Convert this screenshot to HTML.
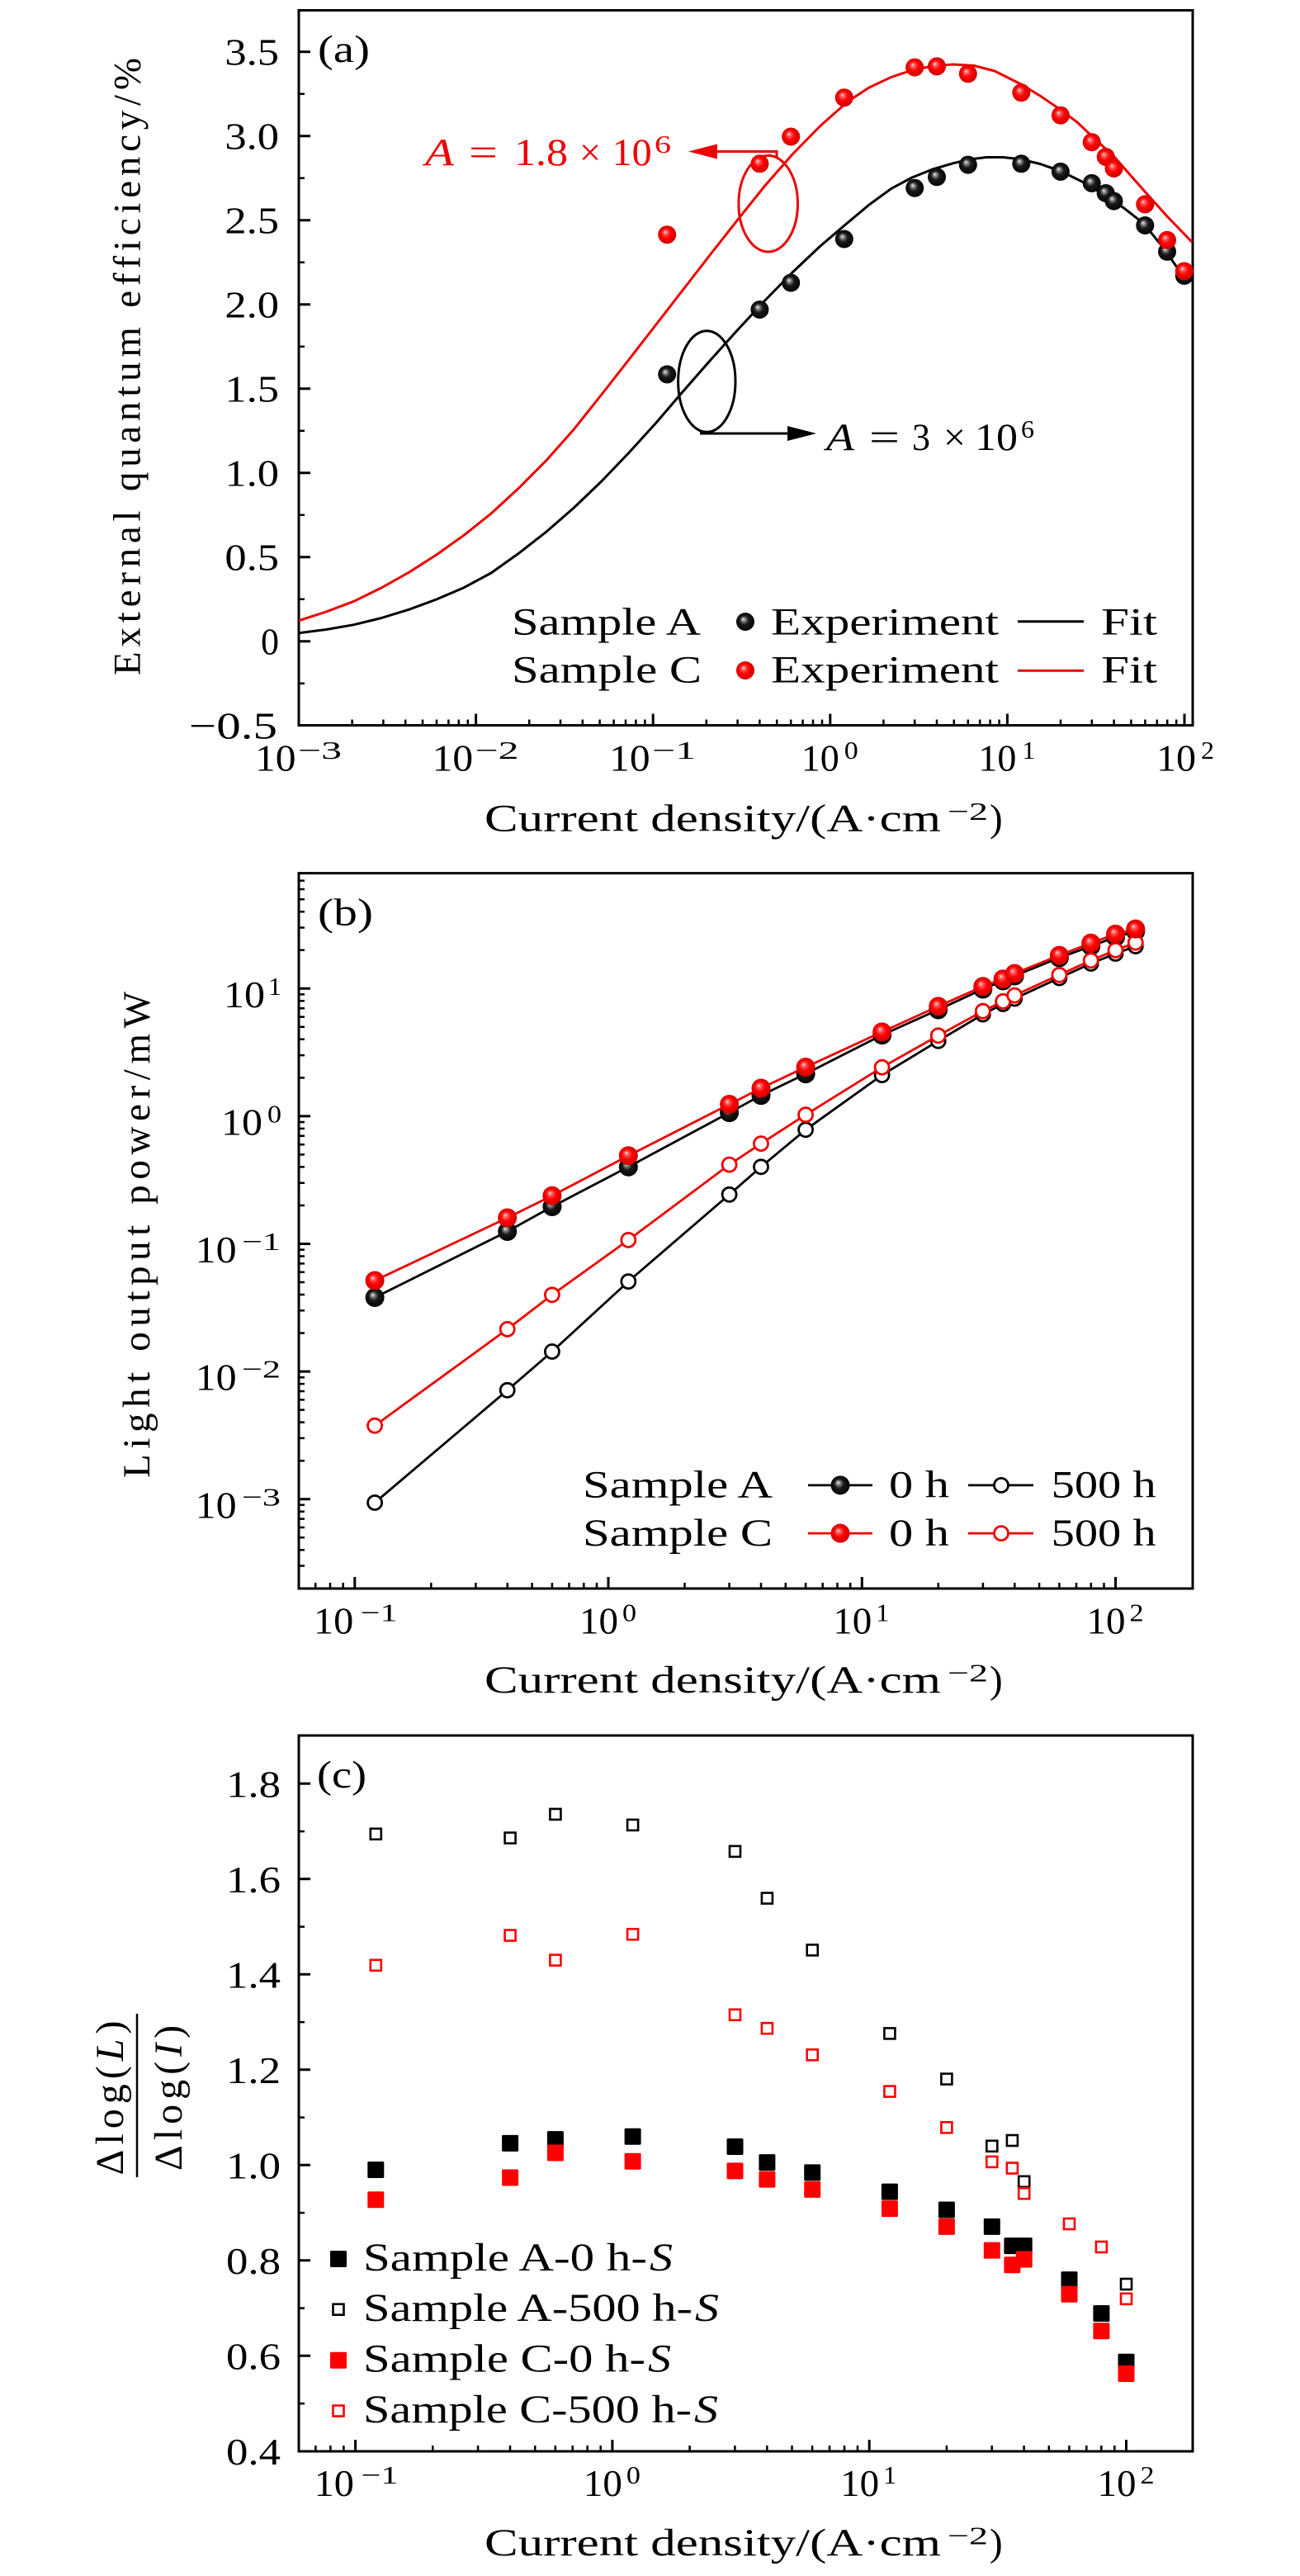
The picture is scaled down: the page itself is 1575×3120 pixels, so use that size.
<!DOCTYPE html>
<html><head><meta charset="utf-8"><style>html,body{margin:0;padding:0;background:#fff}svg{display:block}</style></head>
<body>
<svg xmlns="http://www.w3.org/2000/svg" width="1575" height="3120" viewBox="0 0 1575 3120" font-family="'Liberation Serif', serif">
<defs>
<radialGradient id="gB" cx="0.5" cy="0.5" r="0.55" fx="0.38" fy="0.35">
<stop offset="0" stop-color="#f0f0f0"/><stop offset="0.18" stop-color="#8a8a8a"/><stop offset="0.45" stop-color="#1a1a1a"/><stop offset="1" stop-color="#000"/>
</radialGradient>
<radialGradient id="gR" cx="0.5" cy="0.5" r="0.55" fx="0.38" fy="0.35">
<stop offset="0" stop-color="#ffe0e0"/><stop offset="0.2" stop-color="#ff5a5a"/><stop offset="0.5" stop-color="#ff0000"/><stop offset="1" stop-color="#c80000"/>
</radialGradient>
</defs>
<rect width="1575" height="3120" fill="#fff"/>

<!-- ================= PANEL A ================= -->
<g fill="none" stroke="#000" stroke-width="3">
<rect x="362" y="12.5" width="1083" height="866"/>
<path d="M576.6 878.5v-14M791.2 878.5v-14M1005.8 878.5v-14M1220.4 878.5v-14M1435 878.5v-14"/>
<path stroke-width="2.5" d="M426.6 878.5v-7M464.4 878.5v-7M491.2 878.5v-7M512 878.5v-7M529 878.5v-7M543.4 878.5v-7M555.8 878.5v-7M566.8 878.5v-7M641.2 878.5v-7M679 878.5v-7M705.8 878.5v-7M726.6 878.5v-7M743.6 878.5v-7M758 878.5v-7M770.4 878.5v-7M781.4 878.5v-7M855.8 878.5v-7M893.6 878.5v-7M920.4 878.5v-7M941.2 878.5v-7M958.2 878.5v-7M972.6 878.5v-7M985 878.5v-7M996 878.5v-7M1070.4 878.5v-7M1108.2 878.5v-7M1135 878.5v-7M1155.8 878.5v-7M1172.8 878.5v-7M1187.2 878.5v-7M1199.6 878.5v-7M1210.6 878.5v-7M1285 878.5v-7M1322.8 878.5v-7M1349.6 878.5v-7M1370.4 878.5v-7M1387.4 878.5v-7M1401.8 878.5v-7M1414.2 878.5v-7M1425.2 878.5v-7"/>
<path d="M362 62.7h14M362 164.7h14M362 266.7h14M362 368.7h14M362 470.7h14M362 572.7h14M362 674.7h14M362 776.7h14"/>
<path stroke-width="2.5" d="M362 113.7h7M362 215.7h7M362 317.7h7M362 419.7h7M362 521.7h7M362 623.7h7M362 725.7h7M362 827.7h7"/>
</g>
<g font-size="46" fill="#000">
<text x="272.4" y="78.7" textLength="65.6" lengthAdjust="spacingAndGlyphs">3.5</text>
<text x="272.4" y="180.7" textLength="65.6" lengthAdjust="spacingAndGlyphs">3.0</text>
<text x="272.4" y="282.7" textLength="65.6" lengthAdjust="spacingAndGlyphs">2.5</text>
<text x="272.4" y="384.7" textLength="65.6" lengthAdjust="spacingAndGlyphs">2.0</text>
<text x="272.4" y="486.7" textLength="65.6" lengthAdjust="spacingAndGlyphs">1.5</text>
<text x="272.4" y="588.7" textLength="65.6" lengthAdjust="spacingAndGlyphs">1.0</text>
<text x="272.4" y="690.7" textLength="65.6" lengthAdjust="spacingAndGlyphs">0.5</text>
<text x="316" y="792.7" textLength="22" lengthAdjust="spacingAndGlyphs">0</text>
<text x="229" y="894.7" textLength="107" lengthAdjust="spacingAndGlyphs">−0.5</text>
<text x="309" y="933.3" textLength="49.5" lengthAdjust="spacingAndGlyphs">10</text>
<text x="361" y="919" font-size="31" textLength="53" lengthAdjust="spacingAndGlyphs">−3</text>
<text x="523.6" y="933.3" textLength="49.5" lengthAdjust="spacingAndGlyphs">10</text>
<text x="575.6" y="919" font-size="31" textLength="53" lengthAdjust="spacingAndGlyphs">−2</text>
<text x="738.2" y="933.3" textLength="49.5" lengthAdjust="spacingAndGlyphs">10</text>
<text x="790.2" y="919" font-size="31" textLength="53" lengthAdjust="spacingAndGlyphs">−1</text>
<text x="970.8" y="933.3" textLength="46" lengthAdjust="spacingAndGlyphs">10</text>
<text x="1022.8" y="919" font-size="31" textLength="17" lengthAdjust="spacingAndGlyphs">0</text>
<text x="1185.4" y="933.3" textLength="46" lengthAdjust="spacingAndGlyphs">10</text>
<text x="1238.4" y="919" font-size="31" textLength="16" lengthAdjust="spacingAndGlyphs">1</text>
<text x="1401" y="933.3" textLength="48" lengthAdjust="spacingAndGlyphs">10</text>
<text x="1455" y="919" font-size="31" textLength="16" lengthAdjust="spacingAndGlyphs">2</text>
<text x="587" y="1006.7" font-size="47" textLength="553" lengthAdjust="spacingAndGlyphs">Current density/(A·cm</text>
<text x="1148" y="993" font-size="31" textLength="49" lengthAdjust="spacingAndGlyphs">−2</text>
<text x="1199" y="1006.7" font-size="47">)</text>
<text transform="translate(169.5,444) rotate(-90)" text-anchor="middle" font-size="47" textLength="748" lengthAdjust="spacing">External quantum efficiency/%</text>
<text x="385" y="75" font-size="47" textLength="63" lengthAdjust="spacingAndGlyphs">(a)</text>
</g>
<polyline fill="none" stroke="#000" stroke-width="3" stroke-linejoin="round" points="362,766.7 395,762.5 428.7,756.7 462,748.5 495.3,738.3 528.7,726 562,711.7 595,694 628.7,670 662,644 695.3,615 728.7,583 762,548.3 795,512 826.7,475 860,437 893.3,400 926.7,364 960,330 993.3,298.5 1026.7,270 1053,248 1080,228.3 1105,215 1130,205 1155,197.7 1175,193 1195,190.5 1215,190.5 1235,192.6 1260,198.5 1285,207.3 1310,219.5 1336,234.7 1361,251.5 1386,271 1408,298.5 1428,326.5 1436,336"/>
<polyline fill="none" stroke="#ee0000" stroke-width="3" stroke-linejoin="round" points="362,751.7 395,741 428.7,728.3 462,712 495.3,693.3 528.7,672 562,648.3 595,622 628.7,591 662,557.5 695.3,520 728.7,478 762,435.5 795,393 826.7,352 860,309 893.3,266.7 926.7,225 960,187 993.3,153 1026.7,123.3 1053,106 1080,93.3 1105,85 1130,80 1155,78 1180,79.5 1205,86 1237,102 1260,116 1285,133 1305,148 1323,165 1350,190 1387,232 1414,262 1444,293"/>
<ellipse cx="930.7" cy="246.7" rx="35.8" ry="58.3" fill="none" stroke="#ee0000" stroke-width="3"/>
<path d="M941 191V183.5H866" fill="none" stroke="#ee0000" stroke-width="3"/>
<polygon points="834,183.5 869,174.5 869,192.5" fill="#ee0000"/>
<ellipse cx="856.3" cy="462" rx="34.7" ry="61.3" fill="none" stroke="#000" stroke-width="3"/>
<path d="M848 525H956" fill="none" stroke="#000" stroke-width="3"/>
<polygon points="989,525 954,516 954,534" fill="#000"/>
<g font-size="47" fill="#ee0000">
<text x="515" y="200" font-style="italic" textLength="35" lengthAdjust="spacingAndGlyphs">A</text>
<text x="568" y="200" textLength="35" lengthAdjust="spacingAndGlyphs">=</text>
<text x="623" y="200" textLength="65" lengthAdjust="spacingAndGlyphs">1.8</text>
<text x="702" y="200" textLength="26" lengthAdjust="spacingAndGlyphs">×</text>
<text x="741.7" y="200" textLength="48" lengthAdjust="spacingAndGlyphs">10</text>
<text x="793" y="185" font-size="31" textLength="20" lengthAdjust="spacingAndGlyphs">6</text>
</g>
<g font-size="47" fill="#000">
<text x="1001" y="545" font-style="italic" textLength="34" lengthAdjust="spacingAndGlyphs">A</text>
<text x="1053" y="545" textLength="37" lengthAdjust="spacingAndGlyphs">=</text>
<text x="1105" y="545" textLength="22" lengthAdjust="spacingAndGlyphs">3</text>
<text x="1143" y="545" textLength="27" lengthAdjust="spacingAndGlyphs">×</text>
<text x="1181" y="545" textLength="52" lengthAdjust="spacingAndGlyphs">10</text>
<text x="1237" y="530" font-size="31" textLength="16" lengthAdjust="spacingAndGlyphs">6</text>
</g>
<g fill="url(#gB)">
<circle cx="808.2" cy="453.4" r="11"/><circle cx="920.4" cy="375" r="11"/><circle cx="958.2" cy="342.5" r="11"/><circle cx="1022.8" cy="289.5" r="11"/><circle cx="1108.2" cy="227.7" r="11"/><circle cx="1135" cy="214.3" r="11"/><circle cx="1172.8" cy="199.6" r="11"/><circle cx="1237.3" cy="198.3" r="11"/><circle cx="1284.9" cy="207.9" r="11"/><circle cx="1322.7" cy="221.9" r="11"/><circle cx="1339.7" cy="234" r="11"/><circle cx="1349.5" cy="243.6" r="11"/><circle cx="1387.3" cy="273" r="11"/><circle cx="1414" cy="304.8" r="11"/><circle cx="1434.8" cy="334" r="11"/>
<circle cx="903" cy="753" r="11"/>
</g>
<g fill="url(#gR)">
<circle cx="808.2" cy="284.2" r="11"/><circle cx="920.4" cy="198.3" r="11"/><circle cx="958.2" cy="165.5" r="11"/><circle cx="1022.8" cy="118.2" r="11"/><circle cx="1108.2" cy="81.6" r="11"/><circle cx="1135" cy="80.4" r="11"/><circle cx="1172.8" cy="89.3" r="11"/><circle cx="1237.3" cy="112.2" r="11"/><circle cx="1284.9" cy="139.7" r="11"/><circle cx="1322.7" cy="172.2" r="11"/><circle cx="1339.7" cy="190" r="11"/><circle cx="1349.5" cy="204" r="11"/><circle cx="1387.3" cy="247.4" r="11"/><circle cx="1414" cy="290.8" r="11"/><circle cx="1434.8" cy="328.4" r="11"/>
<circle cx="903" cy="812" r="11"/>
</g>
<path d="M1233 752.7H1313" stroke="#000" stroke-width="3"/>
<path d="M1233 812.3H1313" stroke="#ee0000" stroke-width="3"/>
<g font-size="47" fill="#000">
<text x="620" y="768.3" textLength="229" lengthAdjust="spacingAndGlyphs">Sample A</text>
<text x="934" y="768.3" textLength="276" lengthAdjust="spacingAndGlyphs">Experiment</text>
<text x="1334" y="768.3" textLength="68" lengthAdjust="spacingAndGlyphs">Fit</text>
<text x="620" y="826.7" textLength="230" lengthAdjust="spacingAndGlyphs">Sample C</text>
<text x="934" y="826.7" textLength="276" lengthAdjust="spacingAndGlyphs">Experiment</text>
<text x="1334" y="826.7" textLength="68" lengthAdjust="spacingAndGlyphs">Fit</text>
</g>

<!-- ================= PANEL B ================= -->
<g fill="none" stroke="#000" stroke-width="3">
<rect x="362" y="1057.6" width="1083" height="866.4"/>
<path d="M429.8 1924v-14M737 1924v-14M1044.3 1924v-14M1351.5 1924v-14"/>
<path stroke-width="2.5" d="M382.2 1924v-7M400 1924v-7M415.7 1924v-7M522.3 1924v-7M576.4 1924v-7M614.8 1924v-7M644.6 1924v-7M668.9 1924v-7M689.5 1924v-7M707.3 1924v-7M723 1924v-7M829.5 1924v-7M883.6 1924v-7M922 1924v-7M951.8 1924v-7M976.1 1924v-7M996.7 1924v-7M1014.5 1924v-7M1030.2 1924v-7M1136.8 1924v-7M1190.9 1924v-7M1229.3 1924v-7M1259.1 1924v-7M1283.4 1924v-7M1304 1924v-7M1321.8 1924v-7M1337.5 1924v-7"/>
<path d="M362 1197.3h14M362 1351.9h14M362 1506.5h14M362 1661.1h14M362 1815.7h14"/>
<path stroke-width="2.5" d="M362 1896.5h7M362 1877.2h7M362 1862.2h7M362 1850h7M362 1839.6h7M362 1830.7h7M362 1822.8h7M362 1769.2h7M362 1741.9h7M362 1722.6h7M362 1707.6h7M362 1695.4h7M362 1685h7M362 1676.1h7M362 1668.2h7M362 1614.6h7M362 1587.3h7M362 1568h7M362 1553h7M362 1540.8h7M362 1530.4h7M362 1521.5h7M362 1513.6h7M362 1460h7M362 1432.7h7M362 1413.4h7M362 1398.4h7M362 1386.2h7M362 1375.8h7M362 1366.9h7M362 1359h7M362 1305.4h7M362 1278.1h7M362 1258.8h7M362 1243.8h7M362 1231.6h7M362 1221.2h7M362 1212.3h7M362 1204.4h7M362 1150.8h7M362 1123.5h7M362 1104.2h7M362 1089.2h7M362 1077h7M362 1066.6h7"/>
</g>
<g font-size="45" fill="#000">
<text x="271" y="1219.9" textLength="50" lengthAdjust="spacingAndGlyphs">10</text>
<text x="325" y="1204.9" font-size="31" textLength="16" lengthAdjust="spacingAndGlyphs">1</text>
<text x="268" y="1374.5" textLength="50" lengthAdjust="spacingAndGlyphs">10</text>
<text x="324" y="1359.5" font-size="31" textLength="17" lengthAdjust="spacingAndGlyphs">0</text>
<text x="236.7" y="1529.1" textLength="50" lengthAdjust="spacingAndGlyphs">10</text>
<text x="293" y="1514.1" font-size="31" textLength="47" lengthAdjust="spacingAndGlyphs">−1</text>
<text x="236.7" y="1683.7" textLength="50" lengthAdjust="spacingAndGlyphs">10</text>
<text x="293" y="1668.7" font-size="31" textLength="47" lengthAdjust="spacingAndGlyphs">−2</text>
<text x="236.7" y="1838.3" textLength="50" lengthAdjust="spacingAndGlyphs">10</text>
<text x="293" y="1823.3" font-size="31" textLength="47" lengthAdjust="spacingAndGlyphs">−3</text>
<text x="380" y="1978.3" textLength="48.3" lengthAdjust="spacingAndGlyphs">10</text>
<text x="436.7" y="1963.3" font-size="31" textLength="45" lengthAdjust="spacingAndGlyphs">−1</text>
<text x="702" y="1978.3" textLength="47" lengthAdjust="spacingAndGlyphs">10</text>
<text x="754" y="1963.3" font-size="31" textLength="17" lengthAdjust="spacingAndGlyphs">0</text>
<text x="1009.3" y="1978.3" textLength="47" lengthAdjust="spacingAndGlyphs">10</text>
<text x="1061.3" y="1963.3" font-size="31" textLength="16" lengthAdjust="spacingAndGlyphs">1</text>
<text x="1316.5" y="1978.3" textLength="47" lengthAdjust="spacingAndGlyphs">10</text>
<text x="1368.5" y="1963.3" font-size="31" textLength="17" lengthAdjust="spacingAndGlyphs">2</text>
<text x="587" y="2050" font-size="47" textLength="553" lengthAdjust="spacingAndGlyphs">Current density/(A·cm</text>
<text x="1148" y="2036.3" font-size="31" textLength="49" lengthAdjust="spacingAndGlyphs">−2</text>
<text x="1199" y="2050" font-size="47">)</text>
<text transform="translate(181,1495.5) rotate(-90)" text-anchor="middle" font-size="47" textLength="589" lengthAdjust="spacing">Light output power/mW</text>
<text x="385" y="1120.5" font-size="47" textLength="67" lengthAdjust="spacingAndGlyphs">(b)</text>
</g>
<g fill="none" stroke-width="2.8" stroke-linejoin="round">
<polyline stroke="#000" points="454.1,1820 614.7,1683.8 668.9,1637 761.3,1552.1 883.6,1446.8 922,1413.3 976.1,1368.3 1068.6,1302.1 1136.7,1260.7 1190.8,1228.5 1215.2,1216 1229.2,1209.5 1283.4,1184.5 1321.7,1167 1351.5,1155 1375.8,1146"/>
<polyline stroke="#000" points="454.1,1571.5 614.7,1491.5 668.9,1461.5 761.3,1413.3 883.6,1347.6 922,1326.7 976.1,1300.6 1068.6,1253.6 1136.7,1223 1190.8,1198 1215.2,1188 1229.2,1182 1283.4,1160 1321.7,1146 1351.5,1135 1375.8,1128"/>
</g>
<g fill="#fff" stroke="#000" stroke-width="2.8">
<circle cx="454.1" cy="1820" r="8.5"/><circle cx="614.7" cy="1683.8" r="8.5"/><circle cx="668.9" cy="1637" r="8.5"/><circle cx="761.3" cy="1552.1" r="8.5"/><circle cx="883.6" cy="1446.8" r="8.5"/><circle cx="922" cy="1413.3" r="8.5"/><circle cx="976.1" cy="1368.3" r="8.5"/><circle cx="1068.6" cy="1302.1" r="8.5"/><circle cx="1136.7" cy="1260.7" r="8.5"/><circle cx="1190.8" cy="1228.5" r="8.5"/><circle cx="1215.2" cy="1216" r="8.5"/><circle cx="1229.2" cy="1209.5" r="8.5"/><circle cx="1283.4" cy="1184.5" r="8.5"/><circle cx="1321.7" cy="1167" r="8.5"/><circle cx="1351.5" cy="1155" r="8.5"/><circle cx="1375.8" cy="1146" r="8.5"/>
</g>
<g fill="url(#gB)">
<circle cx="454.1" cy="1571.5" r="11.5"/><circle cx="614.7" cy="1491.5" r="11.5"/><circle cx="668.9" cy="1461.5" r="11.5"/><circle cx="761.3" cy="1413.3" r="11.5"/><circle cx="883.6" cy="1347.6" r="11.5"/><circle cx="922" cy="1326.7" r="11.5"/><circle cx="976.1" cy="1300.6" r="11.5"/><circle cx="1068.6" cy="1253.6" r="11.5"/><circle cx="1136.7" cy="1223" r="11.5"/><circle cx="1190.8" cy="1198" r="11.5"/><circle cx="1215.2" cy="1188" r="11.5"/><circle cx="1229.2" cy="1182" r="11.5"/><circle cx="1283.4" cy="1160" r="11.5"/><circle cx="1321.7" cy="1146" r="11.5"/><circle cx="1351.5" cy="1135" r="11.5"/><circle cx="1375.8" cy="1128" r="11.5"/>
</g>
<g fill="none" stroke-width="2.8" stroke-linejoin="round">
<polyline stroke="#ee0000" points="454.1,1726.7 614.7,1609.9 668.9,1568.3 761.3,1501.9 883.6,1410.6 922,1385.1 976.1,1350.2 1068.6,1292.7 1136.7,1254.3 1190.8,1224.7 1215.2,1212.8 1229.2,1205.6 1283.4,1180.8 1321.7,1163.3 1351.5,1150.9 1375.8,1141.6"/>
<polyline stroke="#ee0000" points="454.1,1551 614.7,1475 668.9,1448.2 761.3,1399.8 883.6,1337.5 922,1318 976.1,1292.5 1068.6,1249.9 1136.7,1218.9 1190.8,1194.8 1215.2,1185.7 1229.2,1179.1 1283.4,1157.1 1321.7,1142.3 1351.5,1131.4 1375.8,1125.1"/>
</g>
<g fill="#fff" stroke="#ee0000" stroke-width="2.8">
<circle cx="454.1" cy="1726.7" r="8.5"/><circle cx="614.7" cy="1609.9" r="8.5"/><circle cx="668.9" cy="1568.3" r="8.5"/><circle cx="761.3" cy="1501.9" r="8.5"/><circle cx="883.6" cy="1410.6" r="8.5"/><circle cx="922" cy="1385.1" r="8.5"/><circle cx="976.1" cy="1350.2" r="8.5"/><circle cx="1068.6" cy="1292.7" r="8.5"/><circle cx="1136.7" cy="1254.3" r="8.5"/><circle cx="1190.8" cy="1224.7" r="8.5"/><circle cx="1215.2" cy="1212.8" r="8.5"/><circle cx="1229.2" cy="1205.6" r="8.5"/><circle cx="1283.4" cy="1180.8" r="8.5"/><circle cx="1321.7" cy="1163.3" r="8.5"/><circle cx="1351.5" cy="1150.9" r="8.5"/><circle cx="1375.8" cy="1141.6" r="8.5"/>
</g>
<g fill="url(#gR)">
<circle cx="454.1" cy="1551" r="11.5"/><circle cx="614.7" cy="1475" r="11.5"/><circle cx="668.9" cy="1448.2" r="11.5"/><circle cx="761.3" cy="1399.8" r="11.5"/><circle cx="883.6" cy="1337.5" r="11.5"/><circle cx="922" cy="1318" r="11.5"/><circle cx="976.1" cy="1292.5" r="11.5"/><circle cx="1068.6" cy="1249.9" r="11.5"/><circle cx="1136.7" cy="1218.9" r="11.5"/><circle cx="1190.8" cy="1194.8" r="11.5"/><circle cx="1215.2" cy="1185.7" r="11.5"/><circle cx="1229.2" cy="1179.1" r="11.5"/><circle cx="1283.4" cy="1157.1" r="11.5"/><circle cx="1321.7" cy="1142.3" r="11.5"/><circle cx="1351.5" cy="1131.4" r="11.5"/><circle cx="1375.8" cy="1125.1" r="11.5"/>
</g>
<path d="M979 1798.9H1057M1173 1798.9H1252" stroke="#000" stroke-width="2.8"/>
<path d="M979 1857.1H1057M1173 1857.1H1252" stroke="#ee0000" stroke-width="2.8"/>
<circle cx="1018" cy="1798.9" r="11.5" fill="url(#gB)"/>
<circle cx="1213" cy="1798.9" r="8.5" fill="#fff" stroke="#000" stroke-width="2.8"/>
<circle cx="1018" cy="1857.1" r="11.5" fill="url(#gR)"/>
<circle cx="1213" cy="1857.1" r="8.5" fill="#fff" stroke="#ee0000" stroke-width="2.8"/>
<g font-size="47" fill="#000">
<text x="706" y="1813.6" textLength="230" lengthAdjust="spacingAndGlyphs">Sample A</text>
<text x="1077" y="1813.6" textLength="73" lengthAdjust="spacingAndGlyphs">0 h</text>
<text x="1273.6" y="1813.6" textLength="127" lengthAdjust="spacingAndGlyphs">500 h</text>
<text x="706" y="1872" textLength="230" lengthAdjust="spacingAndGlyphs">Sample C</text>
<text x="1077" y="1872" textLength="73" lengthAdjust="spacingAndGlyphs">0 h</text>
<text x="1273.6" y="1872" textLength="127" lengthAdjust="spacingAndGlyphs">500 h</text>
</g>

<!-- ================= PANEL C ================= -->
<g fill="none" stroke="#000" stroke-width="3">
<rect x="362" y="2102" width="1083" height="867"/>
<path d="M430.6 2969v-14M741.9 2969v-14M1053.2 2969v-14M1364.5 2969v-14"/>
<path stroke-width="2.5" d="M382.4 2969v-7M400.4 2969v-7M416.4 2969v-7M524.3 2969v-7M579.1 2969v-7M618 2969v-7M648.2 2969v-7M672.8 2969v-7M693.7 2969v-7M711.7 2969v-7M727.7 2969v-7M835.6 2969v-7M890.4 2969v-7M929.3 2969v-7M959.5 2969v-7M984.1 2969v-7M1005 2969v-7M1023 2969v-7M1039 2969v-7M1146.9 2969v-7M1201.7 2969v-7M1240.6 2969v-7M1270.8 2969v-7M1295.4 2969v-7M1316.3 2969v-7M1334.3 2969v-7M1350.3 2969v-7"/>
<path d="M362 2160.3h14M362 2275.8h14M362 2391.3h14M362 2506.8h14M362 2622.3h14M362 2737.8h14M362 2853.3h14"/>
<path stroke-width="2.5" d="M362 2218.1h7M362 2333.6h7M362 2449.1h7M362 2564.6h7M362 2680.1h7M362 2795.6h7M362 2911.1h7"/>
</g>
<g font-size="46" fill="#000">
<text x="274" y="2176.3" textLength="66" lengthAdjust="spacingAndGlyphs">1.8</text>
<text x="274" y="2291.8" textLength="66" lengthAdjust="spacingAndGlyphs">1.6</text>
<text x="274" y="2407.3" textLength="66" lengthAdjust="spacingAndGlyphs">1.4</text>
<text x="274" y="2522.8" textLength="66" lengthAdjust="spacingAndGlyphs">1.2</text>
<text x="274" y="2638.3" textLength="66" lengthAdjust="spacingAndGlyphs">1.0</text>
<text x="274" y="2753.8" textLength="66" lengthAdjust="spacingAndGlyphs">0.8</text>
<text x="274" y="2869.3" textLength="66" lengthAdjust="spacingAndGlyphs">0.6</text>
<text x="274" y="2984.8" textLength="66" lengthAdjust="spacingAndGlyphs">0.4</text>
<text x="380.6" y="3023" textLength="48.3" lengthAdjust="spacingAndGlyphs">10</text>
<text x="437.5" y="3008" font-size="31" textLength="45" lengthAdjust="spacingAndGlyphs">−1</text>
<text x="706.9" y="3023" textLength="47" lengthAdjust="spacingAndGlyphs">10</text>
<text x="758.9" y="3008" font-size="31" textLength="17" lengthAdjust="spacingAndGlyphs">0</text>
<text x="1018.2" y="3023" textLength="47" lengthAdjust="spacingAndGlyphs">10</text>
<text x="1070.2" y="3008" font-size="31" textLength="16" lengthAdjust="spacingAndGlyphs">1</text>
<text x="1329.5" y="3023" textLength="47" lengthAdjust="spacingAndGlyphs">10</text>
<text x="1381.5" y="3008" font-size="31" textLength="17" lengthAdjust="spacingAndGlyphs">2</text>
<text x="587" y="3095" font-size="47" textLength="553" lengthAdjust="spacingAndGlyphs">Current density/(A·cm</text>
<text x="1148" y="3081.3" font-size="31" textLength="49" lengthAdjust="spacingAndGlyphs">−2</text>
<text x="1199" y="3095" font-size="47">)</text>
<text x="384" y="2165" font-size="47" textLength="60" lengthAdjust="spacingAndGlyphs">(c)</text>
<text transform="translate(149,2538) rotate(-90)" text-anchor="middle" font-size="48" letter-spacing="6">Δlog(<tspan font-style="italic">L</tspan>)</text>
<text transform="translate(220,2538) rotate(-90)" text-anchor="middle" font-size="48" letter-spacing="6">Δlog(<tspan font-style="italic">I</tspan>)</text>
</g>
<line x1="166" y1="2439" x2="166" y2="2637" stroke="#000" stroke-width="2.5"/>
<g fill="#000">
<rect x="445.3" y="2618" width="20" height="20" rx="1.5"/><rect x="608.1" y="2585.9" width="20" height="20" rx="1.5"/><rect x="662.9" y="2581.1" width="20" height="20" rx="1.5"/><rect x="756.6" y="2577.7" width="20" height="20" rx="1.5"/><rect x="880.5" y="2590" width="20" height="20" rx="1.5"/><rect x="919.4" y="2609.1" width="20" height="20" rx="1.5"/><rect x="974.2" y="2621.4" width="20" height="20" rx="1.5"/><rect x="1067.9" y="2644.6" width="20" height="20" rx="1.5"/><rect x="1136.9" y="2666.5" width="20" height="20" rx="1.5"/><rect x="1191.8" y="2686.9" width="20" height="20" rx="1.5"/><rect x="1216.4" y="2710.1" width="20" height="20" rx="1.5"/><rect x="1230.7" y="2710.1" width="20" height="20" rx="1.5"/><rect x="1285.5" y="2751.1" width="20" height="20" rx="1.5"/><rect x="1324.4" y="2792" width="20" height="20" rx="1.5"/><rect x="1354.5" y="2850.7" width="20" height="20" rx="1.5"/>
<rect x="400" y="2726" width="20" height="20" rx="1.5"/>
</g>
<g fill="none" stroke="#000" stroke-width="2.6">
<rect x="448.8" y="2214.8" width="13" height="13"/><rect x="611.6" y="2219.6" width="13" height="13"/><rect x="666.4" y="2190.9" width="13" height="13"/><rect x="760.1" y="2203.9" width="13" height="13"/><rect x="884" y="2235.9" width="13" height="13"/><rect x="922.9" y="2292.6" width="13" height="13"/><rect x="977.7" y="2355.4" width="13" height="13"/><rect x="1071.4" y="2456.4" width="13" height="13"/><rect x="1140.4" y="2511.6" width="13" height="13"/><rect x="1195.3" y="2592.8" width="13" height="13"/><rect x="1219.9" y="2586" width="13" height="13"/><rect x="1234.2" y="2635.8" width="13" height="13"/><rect x="1358" y="2760" width="13" height="13"/>
<rect x="403.5" y="2790.7" width="13" height="13"/>
</g>
<g fill="#ff0000">
<rect x="445.3" y="2654.2" width="20" height="20" rx="1.5"/><rect x="608.1" y="2627.5" width="20" height="20" rx="1.5"/><rect x="662.9" y="2597.5" width="20" height="20" rx="1.5"/><rect x="756.6" y="2607.8" width="20" height="20" rx="1.5"/><rect x="880.5" y="2619.4" width="20" height="20" rx="1.5"/><rect x="919.4" y="2629.6" width="20" height="20" rx="1.5"/><rect x="974.2" y="2641.9" width="20" height="20" rx="1.5"/><rect x="1067.9" y="2665.1" width="20" height="20" rx="1.5"/><rect x="1136.9" y="2686.9" width="20" height="20" rx="1.5"/><rect x="1191.8" y="2715.6" width="20" height="20" rx="1.5"/><rect x="1216.4" y="2733.3" width="20" height="20" rx="1.5"/><rect x="1230.7" y="2726.5" width="20" height="20" rx="1.5"/><rect x="1285.5" y="2768.8" width="20" height="20" rx="1.5"/><rect x="1324.4" y="2813.2" width="20" height="20" rx="1.5"/><rect x="1354.5" y="2865" width="20" height="20" rx="1.5"/>
<rect x="400" y="2848.7" width="20" height="20" rx="1.5"/>
</g>
<g fill="none" stroke="#ff0000" stroke-width="2.6">
<rect x="448.8" y="2373.8" width="13" height="13"/><rect x="611.6" y="2337.6" width="13" height="13"/><rect x="666.4" y="2367.6" width="13" height="13"/><rect x="760.1" y="2336.3" width="13" height="13"/><rect x="884" y="2433.8" width="13" height="13"/><rect x="922.9" y="2450.2" width="13" height="13"/><rect x="977.7" y="2482.3" width="13" height="13"/><rect x="1071.4" y="2526.6" width="13" height="13"/><rect x="1140.4" y="2570.3" width="13" height="13"/><rect x="1195.3" y="2611.9" width="13" height="13"/><rect x="1219.9" y="2619.5" width="13" height="13"/><rect x="1234.2" y="2650.2" width="13" height="13"/><rect x="1289" y="2687" width="13" height="13"/><rect x="1327.9" y="2715" width="13" height="13"/><rect x="1358" y="2777.8" width="13" height="13"/>
<rect x="403.5" y="2913.5" width="13" height="13"/>
</g>
<g font-size="48" fill="#000">
<text x="440" y="2750" textLength="344" lengthAdjust="spacingAndGlyphs">Sample A-0 h-</text>
<text x="787" y="2750" font-style="italic" textLength="28" lengthAdjust="spacingAndGlyphs">S</text>
<text x="440" y="2811.2" textLength="399" lengthAdjust="spacingAndGlyphs">Sample A-500 h-</text>
<text x="842" y="2811.2" font-style="italic" textLength="29" lengthAdjust="spacingAndGlyphs">S</text>
<text x="440" y="2872.7" textLength="342" lengthAdjust="spacingAndGlyphs">Sample C-0 h-</text>
<text x="785" y="2872.7" font-style="italic" textLength="28" lengthAdjust="spacingAndGlyphs">S</text>
<text x="440" y="2934" textLength="398" lengthAdjust="spacingAndGlyphs">Sample C-500 h-</text>
<text x="841" y="2934" font-style="italic" textLength="29" lengthAdjust="spacingAndGlyphs">S</text>
</g>
</svg>
</body></html>
